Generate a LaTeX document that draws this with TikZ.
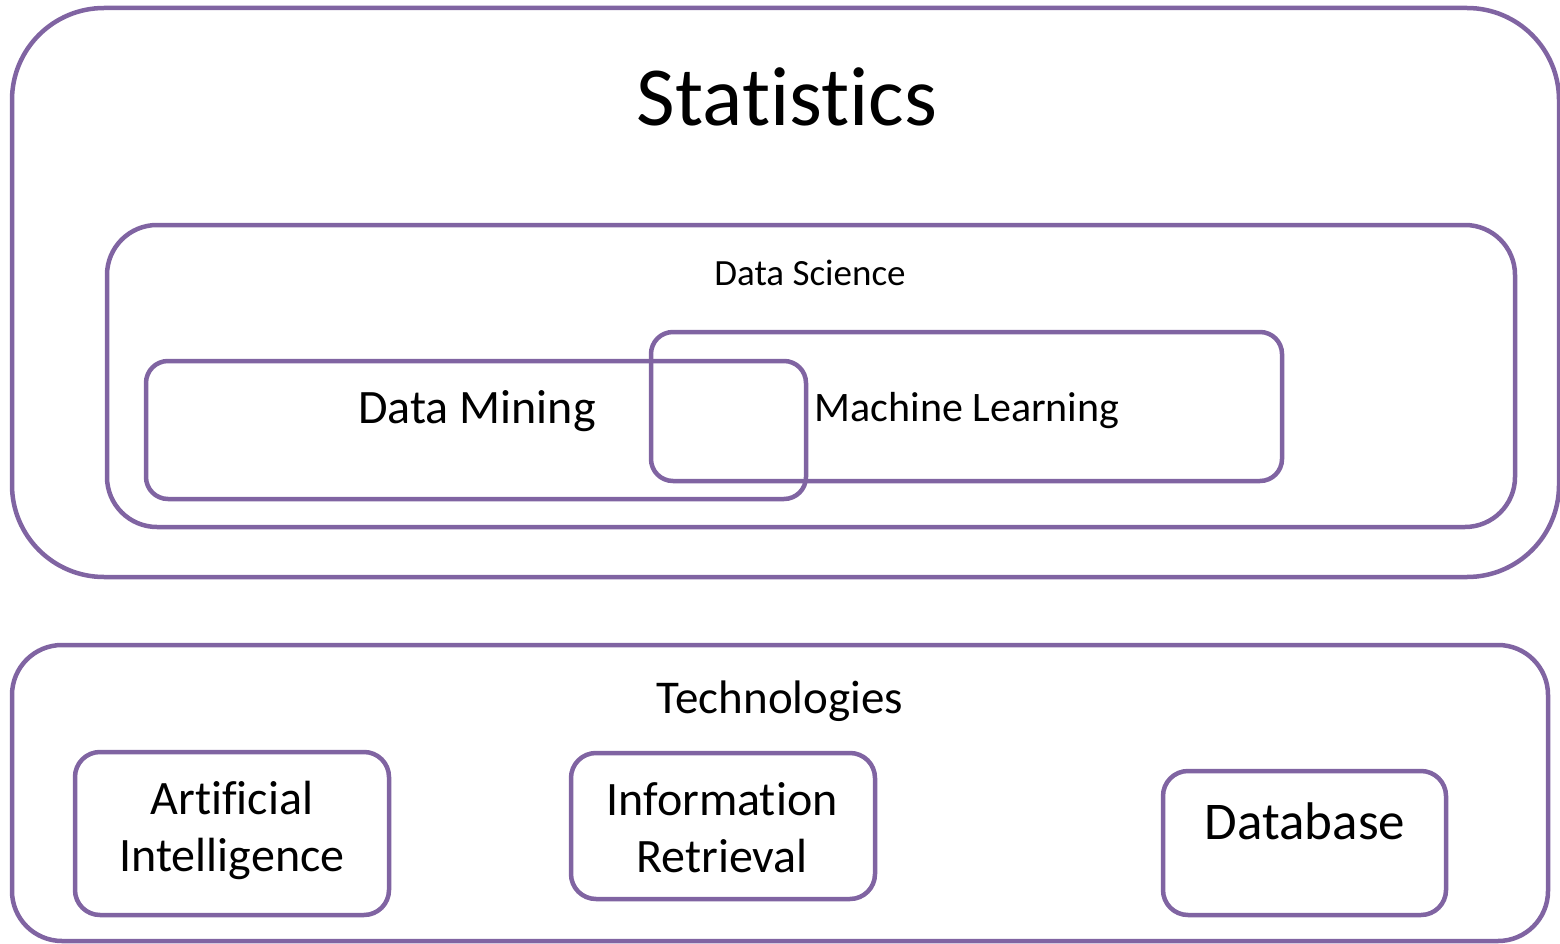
\documentclass[tikz,border=0pt]{standalone}
\usepackage{fontspec}
\setmainfont{Carlito}[Ligatures={NoCommon}]
\usepackage{tikz}
\usetikzlibrary{shapes}
\definecolor{boxpurple}{HTML}{8064A2}

\tikzset{
  area/.style={draw=boxpurple, line width=4.5pt, rectangle, inner sep=0pt, fill=none},
  lbl/.style={anchor=base, inner sep=0pt, text=black}
}

\begin{document}
\begin{tikzpicture}[x=1pt, y=-1pt]
    \useasboundingbox (0,0) rectangle (1560,944);
    % outer boxes
    \node[area, rounded corners=92pt, minimum width=1547pt, minimum height=569pt] (statbox) at (785.5, 292.5) {};
    \node[area, rounded corners=50pt, minimum width=1408pt, minimum height=302pt] (dsbox) at (811, 376) {};
    \node[area, rounded corners=22pt, minimum width=660pt, minimum height=138pt] (dmbox) at (476, 430) {};
    \node[area, rounded corners=22pt, minimum width=631pt, minimum height=149pt] (mlbox) at (966.5, 406.5) {};
    \node[area, rounded corners=50pt, minimum width=1536pt, minimum height=296pt] (techbox) at (780, 793) {};
    \node[area, rounded corners=25pt, minimum width=314pt, minimum height=163pt] (aibox) at (232, 833.5) {};
    \node[area, rounded corners=25pt, minimum width=304pt, minimum height=146pt] (irbox) at (723, 826) {};
    \node[area, rounded corners=25pt, minimum width=283pt, minimum height=144pt] (dbbox) at (1304.5, 843) {};
    % labels
    \node[lbl, font=\fontsize{84}{100}\selectfont] (stat) at (787, 126) {Statistics};
    \node[lbl, font=\fontsize{37}{44}\selectfont] (ds) at (810, 285) {Data Science};
    \node[lbl, font=\fontsize{48}{58}\selectfont] (dm) at (477, 423) {Data Mining};
    \node[lbl, font=\fontsize{42}{50}\selectfont] (ml) at (967, 421) {Machine Learning};
    \node[lbl, font=\fontsize{47}{56}\selectfont] (tech) at (780, 713) {Technologies};
    \node[font=\fontsize{48}{57}\selectfont, align=center, inner sep=0pt] (ai) at (232, 830) {Artificial\\Intelligence};
    \node[font=\fontsize{48}{57}\selectfont, align=center, inner sep=0pt] (ir) at (722, 828) {Information\\Retrieval};
    \node[lbl, font=\fontsize{53}{64}\selectfont] (db) at (1305, 839) {Database};
\end{tikzpicture}
\end{document}
